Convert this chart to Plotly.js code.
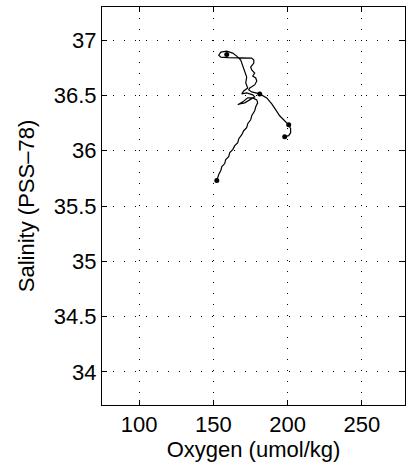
<!DOCTYPE html>
<html>
<head>
<meta charset="utf-8">
<script src="https://cdn.plot.ly/plotly-3.0.1.min.js"></script>
<style>html,body{margin:0;padding:0;background:#fff;}#chart{width:407px;height:476px;}</style>
</head>
<body>
<div id="chart"></div>
<script>
// Profile trace: oxygen (umol/kg) vs salinity (PSS-78)
const oxygen = [198.0,200.7,202.0,202.0,200.7,198.0,194.6,192.0,189.3,185.9,182.5,181.2,
  175.8,173.8,174.5,177.8,179.2,178.5,176.5,177.8,175.8,175.1,177.2,177.2,175.8,
  167.7,159.7,155.0,153.6,155.0,159.0,163.0,165.7,
  168.4,169.8,171.1,172.4,171.8,173.1,170.4,169.1,172.4,176.5,177.8,174.5,171.1,167.7,166.4,
  169.8,173.1,176.5,179.2,179.8,
  178.5,177.8,175.8,175.1,173.1,172.4,170.4,169.1,167.1,166.4,164.4,163.0,161.0,160.3,158.3,157.6,155.7,155.0,153.6,152.3];
const salinity = [36.127,36.136,36.163,36.199,36.235,36.271,36.316,36.370,36.424,36.478,36.505,36.514,
  36.532,36.550,36.568,36.595,36.631,36.658,36.676,36.703,36.730,36.757,36.793,36.820,36.838,
  36.838,36.842,36.847,36.865,36.892,36.901,36.883,36.856,
  36.820,36.766,36.721,36.667,36.613,36.568,36.541,36.514,36.523,36.505,36.487,36.460,36.433,36.424,36.415,
  36.442,36.478,36.478,36.460,36.433,
  36.397,36.361,36.316,36.280,36.244,36.208,36.181,36.145,36.109,36.073,36.046,36.010,35.983,35.947,35.920,35.884,35.857,35.821,35.785,35.731];
// Marked levels
const markOxygen = [159.0,181.2,200.7,198.0,152.3];
const markSalinity = [36.871,36.514,36.235,36.127,35.731];

const xTicks = [100,150,200,250];
const yTicks = [34,34.5,35,35.5,36,36.5,37];
const yTickText = ['34','34.5','35','35.5','36','36.5','37'];

const font = {family:'"Liberation Sans", Arial, Helvetica, sans-serif', color:'#000'};

const axisCommon = {
  showline:true, linecolor:'#000', linewidth:1, mirror:'allticks',
  ticks:'inside', ticklen:5, tickwidth:1, tickcolor:'#000',
  showgrid:true, gridcolor:'#000', gridwidth:1, griddash:'1px,10px',
  zeroline:false, tickfont:Object.assign({size:22}, font)
};

const data = [
  {x:oxygen, y:salinity, type:'scatter', mode:'lines', line:{color:'#000', width:1.2}, hoverinfo:'skip'},
  {x:markOxygen, y:markSalinity, type:'scatter', mode:'markers', marker:{color:'#000', size:5}, hoverinfo:'skip'}
];

const layout = {
  width:407, height:476,
  margin:{l:102, r:2, t:7, b:71},
  paper_bgcolor:'#fff', plot_bgcolor:'#fff',
  showlegend:false,
  font:font,
  xaxis:Object.assign({}, axisCommon, {
    range:[75,279], tickvals:xTicks, ticktext:xTicks.map(String),
    title:{text:'Oxygen (umol/kg)', font:Object.assign({size:22}, font), standoff:4}
  }),
  yaxis:Object.assign({}, axisCommon, {
    range:[33.7,37.3], tickvals:yTicks, ticktext:yTickText,
    title:{text:'Salinity (PSS\u201378)', font:Object.assign({size:22}, font), standoff:13}
  })
};

Plotly.newPlot('chart', data, layout, {staticPlot:true, displayModeBar:false});
</script>
</body>
</html>
